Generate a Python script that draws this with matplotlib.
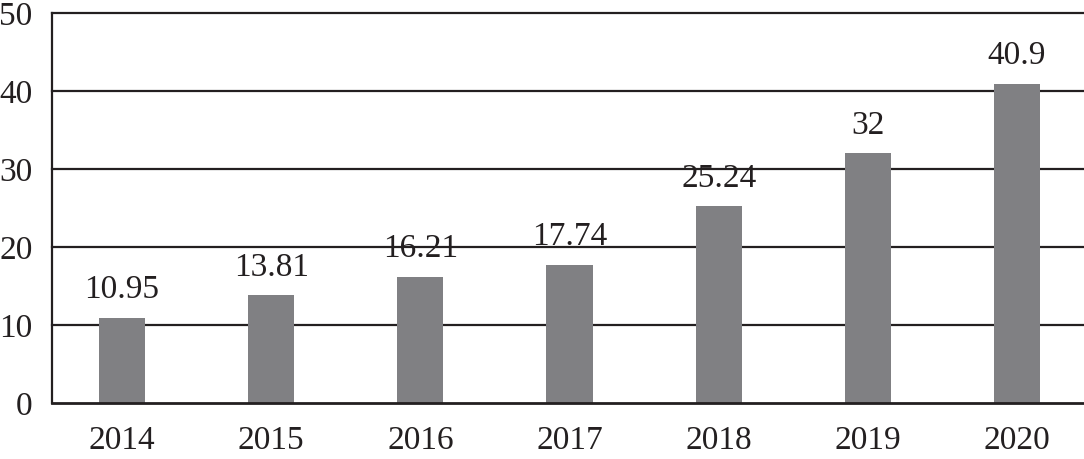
import matplotlib
matplotlib.use("Agg")
from matplotlib import pyplot as plt

years = ["2014", "2015", "2016", "2017", "2018", "2019", "2020"]
values = [10.95, 13.81, 16.21, 17.74, 25.24, 32, 40.9]
labels = ["10.95", "13.81", "16.21", "17.74", "25.24", "32", "40.9"]
yticks = [0, 10, 20, 30, 40, 50]

plt.rcParams["font.family"] = ["Liberation Serif", "DejaVu Serif"]
plt.rcParams["font.size"] = 24

fig = plt.figure(figsize=(10.84, 4.59), dpi=100)
ax = fig.add_axes([0.048, 0.122, 0.952, 0.8497])

x = list(range(len(years)))
ax.bar(x, values, width=0.31, color="#808083", zorder=2)
for xi, v, lab in zip(x, values, labels):
    ax.annotate(lab, (xi, v), xytext=(0, 9), textcoords="offset points",
                ha="center", va="bottom", color="#231f20")

ax.set_ylim(0, 50)
ax.set_xlim(-0.47, 6.45)
ax.set_yticks(yticks)
ax.set_xticks(x)
ax.set_xticklabels(years)
ax.tick_params(length=0, colors="#231f20")
ax.tick_params(axis="x", pad=16)
ax.tick_params(axis="y", pad=14)
for t in yticks[1:]:
    ax.axhline(t, color="#231f20", lw=1.6, zorder=1, clip_on=False)

for side in ["top", "right"]:
    ax.spines[side].set_visible(False)
ax.spines["left"].set_color("#231f20")
ax.spines["left"].set_linewidth(1.6)
ax.spines["bottom"].set_color("#231f20")
ax.spines["bottom"].set_linewidth(2.0)
ax.spines["bottom"].set_zorder(3)

fig.savefig("out.png", dpi=100)
